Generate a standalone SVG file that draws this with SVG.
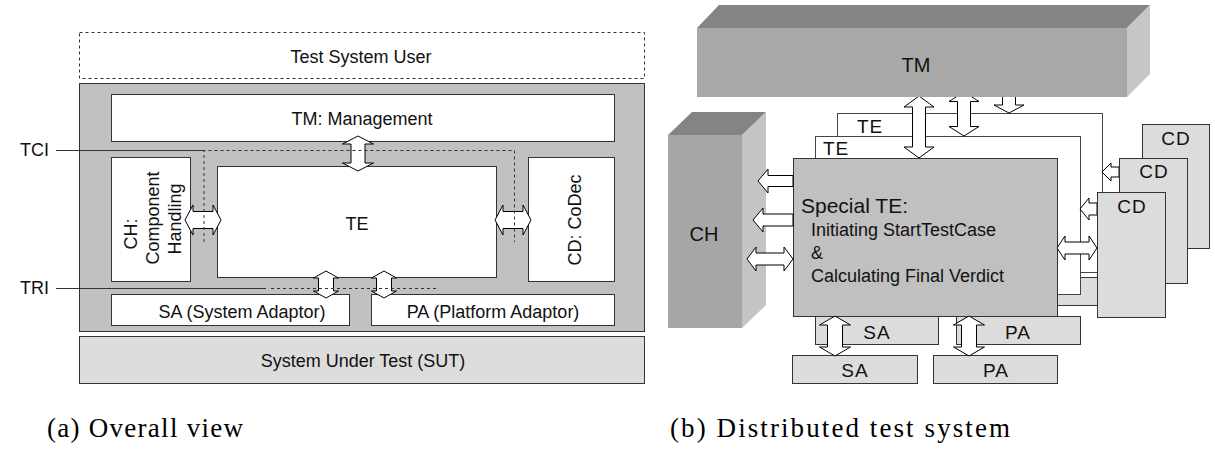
<svg xmlns="http://www.w3.org/2000/svg" width="1215" height="458" viewBox="0 0 1215 458">
<style>
.box{stroke:#333;stroke-width:1}
.w{fill:#fff}
.g{fill:#c0c0c0}
.lg{fill:#dcdcdc}
.frame{fill:#fff;stroke:#444;stroke-width:1}
.arrow{fill:#fff;stroke:#000;stroke-width:1}
.dash{fill:none;stroke:#333;stroke-width:1;stroke-dasharray:3,3}
.line{fill:none;stroke:#333;stroke-width:1}
.t{font-family:"Liberation Sans",Arial,sans-serif;font-size:18px;fill:#111}
.m{text-anchor:middle}
.lbl{font-size:19px;letter-spacing:1px}
.cap{font-family:"Liberation Serif","Times New Roman",serif;font-size:27px;fill:#000}
</style>
<rect width="1215" height="458" fill="#fff"/>

<!-- ===== (a) Overall view ===== -->
<g id="test-system-user">
<rect x="79.5" y="32.5" width="565" height="46" fill="#fff" class="dash"/>
<text class="t m" x="361" y="63">Test System User</text>
</g>
<g id="test-system">
<rect x="79.5" y="83.5" width="565" height="248" class="box g"/>
</g>
<g id="tm-management">
<rect x="111.5" y="94.5" width="503" height="47" class="box w"/>
<text class="t m" x="362" y="125">TM: Management</text>
</g>
<g id="ch-component-handling">
<rect x="111.5" y="157.5" width="79" height="124" class="box w"/>
<text class="t m" transform="translate(131,234) rotate(-90)" y="6">CH:</text>
<text class="t m" transform="translate(153,218) rotate(-90)" y="6">Component</text>
<text class="t m" transform="translate(175,219) rotate(-90)" y="6">Handling</text>
</g>
<g id="te">
<rect x="217.5" y="166.5" width="279" height="111" class="box w"/>
<text class="t m" x="357" y="230">TE</text>
</g>
<g id="cd-codec">
<rect x="528.5" y="157.5" width="86" height="124" class="box w"/>
<text class="t m" transform="translate(575,220) rotate(-90)" y="6">CD: CoDec</text>
</g>
<g id="sa-system-adaptor">
<rect x="111.5" y="294.5" width="238" height="31" class="box w"/>
<text class="t m" x="242" y="318">SA (System Adaptor)</text>
</g>
<g id="pa-platform-adaptor">
<rect x="371.5" y="294.5" width="243" height="31" class="box w"/>
<text class="t m" x="493" y="318">PA (Platform Adaptor)</text>
</g>
<g id="sut">
<rect x="79.5" y="336.5" width="565" height="47" class="box lg"/>
<text class="t m" x="363" y="367">System Under Test (SUT)</text>
</g>
<g id="tci-label"><text class="t" x="20" y="156">TCI</text></g>
<g id="tri-label"><text class="t" x="20" y="294">TRI</text></g>

<g id="connectors-a">
<polygon class="arrow" points="358,136 373.5,144 365,144 365,163 373.5,163 358,171 342.5,163 351,163 351,144 342.5,144"/>
<polygon class="arrow" points="185,220 193,205 193,211.5 213,211.5 213,205 221,220 213,235 213,228.5 193,228.5 193,235"/>
<polygon class="arrow" points="495,220 503,205 503,211.5 523,211.5 523,205 531,220 523,235 523,228.5 503,228.5 503,235"/>
<polygon class="arrow" points="326,271 338.5,278 333.5,278 333.5,291 338.5,291 326,298 313.5,291 318.5,291 318.5,278 313.5,278"/>
<polygon class="arrow" points="384,271 396.5,278 391.5,278 391.5,291 396.5,291 384,298 371.5,291 376.5,291 376.5,278 371.5,278"/>
<line class="line" x1="56" y1="150.5" x2="204" y2="150.5"/>
<path class="dash" d="M204,242 V150.5 H514.5 V242"/>
<line class="line" x1="56" y1="288.5" x2="266" y2="288.5"/>
<line class="dash" x1="271" y1="288.5" x2="438" y2="288.5"/>
</g>

<!-- ===== (b) Distributed test system ===== -->
<g id="back-pa">
<rect x="977.5" y="277.5" width="124" height="28" class="box lg"/>
</g>
<g id="back-te">
<rect x="837.5" y="113.5" width="265" height="159" class="frame"/>
<text class="t lbl" x="857" y="133">TE</text>
</g>
<g id="middle-te">
<rect x="815.5" y="136.5" width="265" height="158" class="frame"/>
<text class="t lbl" x="823" y="155">TE</text>
</g>
<g id="middle-sa">
<rect x="815.5" y="316.5" width="123" height="28" class="box lg"/>
<text class="t lbl m" x="877" y="339">SA</text>
</g>
<g id="middle-pa">
<rect x="956.5" y="316.5" width="124" height="28" class="box lg"/>
<text class="t lbl m" x="1018" y="339">PA</text>
</g>
<g id="special-te">
<rect x="793.5" y="158.5" width="264" height="158" class="box g"/>
<text class="t" x="801" y="213" style="font-size:21px">Special TE:</text>
<text class="t" x="811" y="236">Initiating StartTestCase</text>
<text class="t" x="811" y="259">&amp;</text>
<text class="t" x="811" y="282">Calculating Final Verdict</text>
</g>

<g id="connectors-b">
<polygon class="arrow" points="919,96 934,107 925.5,107 925.5,147 934,147 919,158 904,147 912.5,147 912.5,107 904,107"/>
<polygon class="arrow" points="964,92 979,101.5 970.5,101.5 970.5,126.5 979,126.5 964,136 949,126.5 957.5,126.5 957.5,101.5 949,101.5"/>
<polygon class="arrow" points="1002.5,90 1015.5,90 1015.5,105 1024,105 1009,113 994,105 1002.5,105"/>
</g>

<g id="tm">
<polygon points="697,28 719,5 1150,5 1127,28" fill="#848484"/>
<rect x="697" y="28" width="430" height="69" fill="#a8a8a8"/>
<polygon points="1127,28 1150,5 1150,74 1127,97" fill="#c6c6c6"/>
<text class="t m" x="916" y="72" style="font-size:20px">TM</text>
</g>

<g id="ch">
<polygon points="668,135 692,112 766,112 742,135" fill="#848484"/>
<rect x="668" y="135" width="74" height="193" fill="#a6a6a6"/>
<polygon points="742,135 766,112 766,305 742,328" fill="#c4c4c4"/>
<text class="t m" x="704" y="241" style="font-size:20px">CH</text>
</g>

<g id="front-sa">
<rect x="792.5" y="355.5" width="125" height="28" class="box lg"/>
<text class="t lbl m" x="855" y="377">SA</text>
</g>
<g id="front-pa">
<rect x="933.5" y="355.5" width="124" height="28" class="box lg"/>
<text class="t lbl m" x="996" y="377">PA</text>
</g>

<g id="cd-back">
<rect x="1142.5" y="124.5" width="67" height="124" class="box lg"/>
<text class="t lbl m" x="1176" y="145">CD</text>
</g>

<g id="connectors-c">
<polygon class="arrow" points="793,175.5 768,175.5 768,169 758,181 768,193 768,186.5 793,186.5"/>
<polygon class="arrow" points="793,214 763,214 763,208 753,220 763,232 763,226 793,226"/>
<polygon class="arrow" points="747,259 756,247 756,253 784,253 784,247 793,259 784,271 784,265 756,265 756,271"/>
<polygon class="arrow" points="835,316 850.5,325 842.5,325 842.5,347 850.5,347 835,356 819.5,347 827.5,347 827.5,325 819.5,325"/>
<polygon class="arrow" points="969,316 984.5,325 976.5,325 976.5,347 984.5,347 969,356 953.5,347 961.5,347 961.5,325 953.5,325"/>
<polygon class="arrow" points="1119,167 1111,167 1111,163 1102,172 1111,181 1111,177 1119,177"/>
</g>

<g id="cd-middle">
<rect x="1119.5" y="158.5" width="68" height="125" class="box lg"/>
<text class="t lbl m" x="1154" y="178">CD</text>
</g>

<g id="connectors-d">
<polygon class="arrow" points="1097,203 1089,203 1089,198 1080,209 1089,220 1089,215 1097,215"/>
<polygon class="arrow" points="1057,248 1065,236 1065,242 1089,242 1089,236 1097,248 1089,260 1089,254 1065,254 1065,260"/>
</g>

<g id="cd-front">
<rect x="1097.5" y="192.5" width="68" height="125" class="box lg"/>
<text class="t lbl m" x="1132" y="213">CD</text>
</g>

<g id="captions">
<text class="cap" x="47" y="437" textLength="196" lengthAdjust="spacing">(a) Overall view</text>
<text class="cap" x="670" y="437" textLength="340" lengthAdjust="spacing">(b) Distributed test system</text>
</g>
</svg>
